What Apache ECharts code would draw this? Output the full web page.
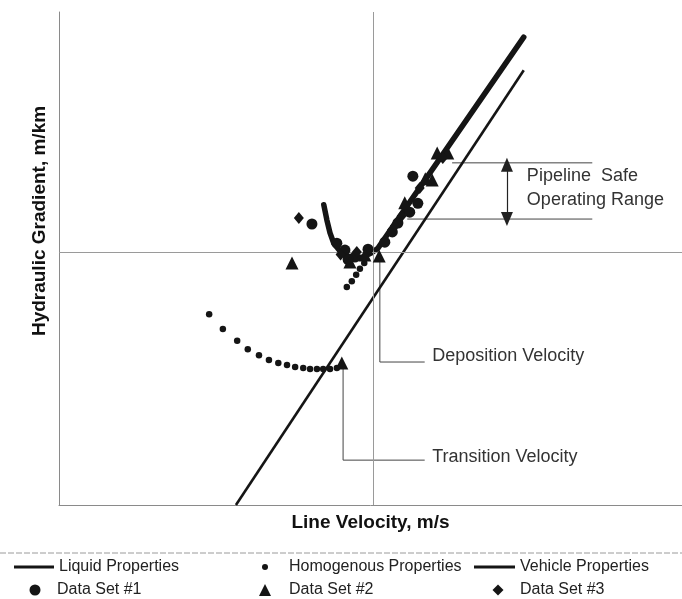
<!DOCTYPE html>
<html>
<head>
<meta charset="utf-8">
<script src="https://cdn.jsdelivr.net/npm/echarts@6/dist/echarts.min.js"></script>
<style>
html,body{margin:0;padding:0;background:#fff;}
#chart{width:682px;height:599px;}
</style>
</head>
<body>
<div id="chart"></div>
<script>
// ---- data (arbitrary units, no tick labels in original) ----
var liquidLine = [[2.84, 0.00], [7.46, 8.82]];
var homogenous = [
  [2.41, 3.87], [2.63, 3.57], [2.86, 3.33], [3.03, 3.16], [3.21, 3.04],
  [3.37, 2.94], [3.52, 2.88], [3.66, 2.84], [3.79, 2.80], [3.92, 2.78],
  [4.03, 2.76], [4.14, 2.76], [4.24, 2.76], [4.35, 2.76], [4.46, 2.78],
  [4.62, 4.42], [4.70, 4.54], [4.77, 4.67], [4.83, 4.79], [4.90, 4.91]
];
var vehicleLine = [
  [4.25, 6.09], [4.30, 5.78], [4.35, 5.52], [4.41, 5.31], [4.51, 5.15],
  [4.62, 5.05], [4.75, 5.01], [4.88, 5.03], [5.01, 5.11], [5.12, 5.21],
  [7.46, 9.49]
];
var dataSet1 = [
  [4.06, 5.70], [4.46, 5.31], [4.59, 5.17], [4.75, 5.03], [4.96, 5.19],
  [5.23, 5.33], [5.35, 5.54], [5.44, 5.72], [5.63, 5.94], [5.68, 6.67],
  [4.64, 4.98], [5.76, 6.12]
];
var dataSet2 = [
  [3.74, 4.91], [4.54, 2.88], [5.14, 5.05], [5.99, 6.59], [6.07, 7.14],
  [6.24, 7.14], [5.55, 6.13], [4.67, 4.93], [4.91, 5.07], [5.88, 6.62]
];
var dataSet3 = [
  [3.85, 5.82], [4.78, 5.13], [5.39, 5.66], [5.79, 6.43], [6.16, 7.04],
  [4.52, 5.08], [5.50, 5.86]
];
var depositionVelocity = 5.04;
var referenceGradient = 5.13;
var transitionCallout = [[4.56, 2.78], [4.56, 0.91], [5.87, 0.91]];
var depositionCallout = [[5.15, 4.93], [5.15, 2.90], [5.87, 2.90]];
var safeRangeTop = [[6.31, 6.94], [8.56, 6.94]];
var safeRangeBottom = [[5.59, 5.80], [8.56, 5.80]];
var safeRangeArrow = [[7.19, 6.90], [7.19, 5.80]];
var annotations = [
  {pos: [5.99, 3.02], text: 'Deposition Velocity'},
  {pos: [5.99, 0.97], text: 'Transition Velocity'},
  {pos: [7.51, 6.67], text: 'Pipeline  Safe'},
  {pos: [7.51, 6.19], text: 'Operating Range'}
];

var FONT = "'Liberation Sans', Arial, Helvetica, sans-serif";
var INK = '#151515';
var chart = echarts.init(document.getElementById('chart'));

function calloutSeries(data) {
  return {
    type: 'line', data: data, symbol: 'none', silent: true,
    lineStyle: {color: '#444', width: 1}, z: 1, animation: false
  };
}

function lg(name, left, top, icon, w, h, keep, padLeft) {
  return {
    data: [name], left: left, top: top, icon: icon, itemWidth: w, itemHeight: h,
    symbolKeepAspect: keep, padding: 0, itemGap: 0, selectedMode: false,
    textStyle: {fontFamily: FONT, fontSize: 16, color: '#222', lineHeight: 18,
                padding: [0, 0, 0, padLeft || 0]}
  };
}

var option = {
  animation: false,
  backgroundColor: '#fff',
  grid: {left: 59, right: 0, top: 12, bottom: 94},
  xAxis: {
    type: 'value', min: 0, max: 10,
    name: 'Line Velocity, m/s', nameLocation: 'middle', nameGap: 8,
    nameTextStyle: {fontFamily: FONT, fontSize: 19, fontWeight: 'bold', color: '#111'},
    axisLine: {show: true, lineStyle: {color: '#8a8a8a', width: 1}},
    axisTick: {show: false}, axisLabel: {show: false}, splitLine: {show: false}
  },
  yAxis: {
    type: 'value', min: 0, max: 10,
    axisLine: {show: true, lineStyle: {color: '#8a8a8a', width: 1}},
    axisTick: {show: false}, axisLabel: {show: false}, splitLine: {show: false}
  },
  legend: [
    lg('Liquid Properties', 14, 558, 'rect', 40, 3, false, 0),
    lg('Homogenous Properties', 262, 558, 'circle', 6, 6, true, 16),
    lg('Vehicle Properties', 474, 558, 'rect', 41, 3, false, 0),
    lg('Data Set #1', 29.5, 581, 'circle', 11, 11, true, 11.5),
    lg('Data Set #2', 259, 581, 'triangle', 12, 12, true, 13),
    lg('Data Set #3', 492.5, 581, 'diamond', 11, 11, true, 11.5)
  ],
  graphic: [
    {type: 'line', shape: {x1: 0, y1: 553, x2: 682, y2: 553},
     style: {stroke: '#9a9a9a', lineWidth: 1, lineDash: [6, 2]}},
    {type: 'text', x: 40, y: 221, rotation: Math.PI / 2,
     style: {text: 'Hydraulic Gradient, m/km', fontFamily: FONT, fontSize: 19, fontWeight: 'bold',
             fill: '#111', align: 'center', verticalAlign: 'middle'}}
  ],
  series: [
    {
      name: 'reference', type: 'line', data: [], silent: true,
      markLine: {
        silent: true, symbol: 'none', label: {show: false},
        lineStyle: {color: '#9a9a9a', width: 1, type: 'solid'},
        data: [{xAxis: depositionVelocity}, {yAxis: referenceGradient}]
      }
    },
    calloutSeries(transitionCallout),
    calloutSeries(depositionCallout),
    calloutSeries(safeRangeTop),
    calloutSeries(safeRangeBottom),
    {
      name: 'arrow', type: 'line', data: [], silent: true,
      markLine: {
        silent: true, symbol: ['triangle', 'triangle'], symbolSize: [12, 14],
        label: {show: false},
        lineStyle: {color: '#222', width: 1.2, type: 'solid'},
        itemStyle: {color: '#222'},
        data: [[{coord: safeRangeArrow[0]}, {coord: safeRangeArrow[1]}]]
      }
    },
    {
      name: 'Liquid Properties', type: 'line', data: liquidLine, symbol: 'none',
      lineStyle: {color: INK, width: 2.6}, itemStyle: {color: INK}, z: 3
    },
    {
      name: 'Homogenous Properties', type: 'scatter', data: homogenous,
      symbol: 'circle', symbolSize: 6.5, itemStyle: {color: INK, opacity: 1}, z: 4
    },
    {
      name: 'Vehicle Properties', type: 'line', data: vehicleLine, symbol: 'none',
      lineStyle: {color: INK, width: 5.5, cap: 'round', join: 'round'},
      itemStyle: {color: INK}, z: 3
    },
    {
      name: 'Data Set #1', type: 'scatter', data: dataSet1,
      symbol: 'circle', symbolSize: 11, itemStyle: {color: INK, opacity: 1}, z: 5
    },
    {
      name: 'Data Set #2', type: 'scatter', data: dataSet2,
      symbol: 'triangle', symbolSize: 13, itemStyle: {color: INK, opacity: 1}, z: 5
    },
    {
      name: 'Data Set #3', type: 'scatter', data: dataSet3,
      symbol: 'diamond', symbolSize: [10, 12], itemStyle: {color: INK, opacity: 1}, z: 5
    }
  ]
};
chart.setOption(option);

var notes = annotations.map(function (a) {
  var p = chart.convertToPixel({gridIndex: 0}, a.pos);
  return {
    type: 'text', x: p[0], y: p[1], silent: true,
    style: {text: a.text, fontFamily: FONT, fontSize: 18, fill: '#333',
            align: 'left', verticalAlign: 'middle'}
  };
});
chart.setOption({graphic: option.graphic.concat(notes)});
</script>
</body>
</html>
